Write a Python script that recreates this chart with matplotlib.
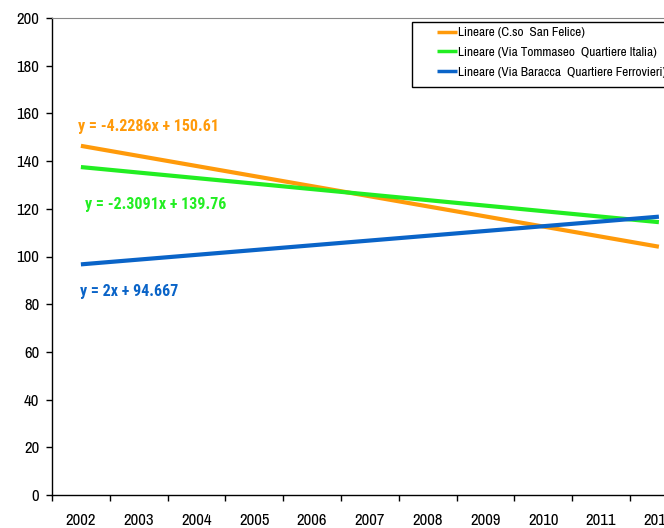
import matplotlib
matplotlib.use("Agg")
import matplotlib.pyplot as plt
import matplotlib.font_manager as fm
from matplotlib.patches import Rectangle

years = ["2002", "2003", "2004", "2005", "2006", "2007", "2008", "2009", "2010", "2011", "2012"]
# trend line values at first and last year
orange_ends = [146.4, 104.1]
green_ends = [137.5, 114.4]
blue_ends = [96.7, 116.7]
series_names = ["Lineare (C.so  San Felice)",
                "Lineare (Via Tommaseo  Quartiere Italia)",
                "Lineare (Via Baracca  Quartiere Ferrovieri)"]
equations = ["y = -4.2286x + 150.61", "y = -2.3091x + 139.76", "y = 2x + 94.667"]
colors = ["#FF9A0A", "#22EE22", "#0A64C8"]

fonts = {(f.name, f.weight) for f in fm.fontManager.ttflist}
names = {n for n, w in fonts}
fam = next((n for n in ["Archivo Narrow", "Roboto Condensed", "Liberation Sans"] if n in names), "DejaVu Sans")
bold_fam = next((n for n in ["Archivo Narrow", "Roboto Condensed", "Liberation Sans"]
                 if any(nn == n and (w == 700 or w == 'bold') for nn, w in fonts)), fam)
plt.rcParams['font.family'] = [fam, 'DejaVu Sans']

fig = plt.figure(figsize=(6.64, 5.28), dpi=100)
ax_left = 52 / 664
ax_bottom = (528 - 495) / 528
ax_w = (57.8 * 11) / 664
ax_h = (495 - 18) / 528
ax = fig.add_axes([ax_left, ax_bottom, ax_w, ax_h])

ends_x = [0, len(years) - 1]
for ends, c, n in zip([orange_ends, green_ends, blue_ends], colors, series_names):
    ax.plot(ends_x, ends, color=c, lw=3, label=n, solid_capstyle='butt')

ax.set_xlim(-0.5, len(years) - 0.5)
ax.set_ylim(0, 200)
ax.set_yticks(range(0, 201, 20))
ax.set_xticks(range(len(years)))
ax.set_xticklabels(years)
ax.set_xticks([i - 0.5 for i in range(len(years) + 1)], minor=True)
ax.tick_params(axis='x', which='major', length=0, pad=13, labelsize=12)
ax.tick_params(axis='x', which='minor', length=4, direction='out', width=1)
ax.tick_params(axis='y', length=4, direction='out', width=1, labelsize=12, pad=5)

ax.spines['top'].set_color('#888888')
ax.spines['right'].set_visible(False)
ax.spines['left'].set_linewidth(1)
ax.spines['bottom'].set_linewidth(1)

text_pos = [(-0.05, 154.7), (0.07, 121.6), (-0.02, 85.5)]
for (tx, ty), eq, c in zip(text_pos, equations, colors):
    ax.text(tx, ty, eq, color=c, fontsize=11.5, fontweight='bold', va='center', ha='left',
            family=[bold_fam, 'DejaVu Sans'])

# legend frame (extends past the right edge as in the reference)
fig.patches.append(Rectangle((412 / 664, (528 - 87) / 528), 0.5, 65 / 528,
                             transform=fig.transFigure, facecolor='white',
                             edgecolor='black', lw=1, zorder=2))
leg = fig.legend(loc='upper left', bbox_to_anchor=(437 / 664, 1 - 27 / 528),
                 fontsize=9.5, frameon=False, handlelength=1.5,
                 handletextpad=0.1, borderpad=0, labelspacing=0.65, borderaxespad=0)
leg.set_zorder(5)
for line in leg.get_lines():
    line.set_linewidth(2.5)

fig.savefig("out.png", dpi=100)
